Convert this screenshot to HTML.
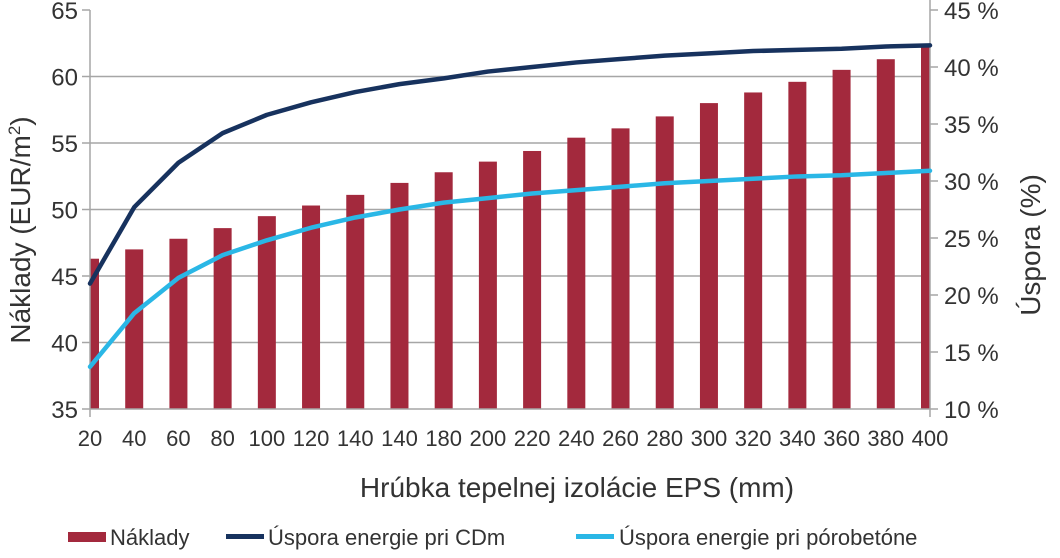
<!DOCTYPE html>
<html><head><meta charset="utf-8"><style>
body{margin:0;background:#fff;}
text{font-family:"Liberation Sans",sans-serif;fill:#333;}
</style></head><body>
<svg id="chart" width="1060" height="553" viewBox="0 0 1060 553" xmlns="http://www.w3.org/2000/svg">
<defs><clipPath id="plotclip"><rect x="90" y="0" width="840" height="409"/></clipPath></defs>
<g id="grid"></g>
<g id="bars" clip-path="url(#plotclip)"></g>
<g id="axes"></g>
<g id="lines"></g>
<text x="30" y="230" font-size="28" text-anchor="middle" transform="rotate(-90 30 230)">Náklady (EUR/m<tspan font-size="17" dy="-10">2</tspan><tspan dy="10">)</tspan></text>
<text x="1040" y="245" font-size="28" text-anchor="middle" transform="rotate(-90 1040 245)">Úspora (%)</text>
<text x="577" y="497" font-size="28" text-anchor="middle">Hrúbka tepelnej izolácie EPS (mm)</text>
<g>
<g><rect x="68" y="532" width="38" height="10" fill="#a3293d"/><text x="110" y="545" font-size="22">Náklady</text></g>
<g><rect x="226" y="534" width="38" height="5" fill="#17325e"/><text x="268" y="545" font-size="22">Úspora energie pri CDm</text></g>
<g><rect x="576" y="534" width="38" height="5" fill="#2ab7e6"/><text x="619" y="545" font-size="22">Úspora energie pri pórobetóne</text></g>
</g>
</svg>
<script>
const categories=["20","40","60","80","100","120","140","140","180","200","220","240","260","280","300","320","340","360","380","400"];
const costs=[46.3,47.0,47.8,48.6,49.5,50.3,51.1,52.0,52.8,53.6,54.4,55.4,56.1,57.0,58.0,58.8,59.6,60.5,61.3,62.2];
const savingCDm=[21.0,27.7,31.6,34.2,35.8,36.9,37.8,38.5,39.0,39.6,40.0,40.4,40.7,41.0,41.2,41.4,41.5,41.6,41.8,41.9];
const savingPoro=[13.7,18.4,21.5,23.5,24.8,25.9,26.8,27.5,28.1,28.5,28.9,29.2,29.5,29.8,30.0,30.2,30.4,30.5,30.7,30.9];
const leftTicks=[35,40,45,50,55,60,65];
const rightTicks=[10,15,20,25,30,35,40,45];
const NS="http://www.w3.org/2000/svg";
const X0=90,X1=930,YT=10,YB=409;
const xs=i=>X0+i*(X1-X0)/(categories.length-1);
const yL=v=>YB-(v-35)/30*(YB-YT);
const yR=v=>YB-(v-10)/35*(YB-YT);
function mk(tag,attrs,parent){const e=document.createElementNS(NS,tag);for(const k in attrs)e.setAttribute(k,attrs[k]);parent.appendChild(e);return e;}
const grid=document.getElementById('grid'),bars=document.getElementById('bars'),axes=document.getElementById('axes'),lines=document.getElementById('lines');
leftTicks.forEach(t=>{const y=yL(t);
 if(t>35&&t<65){const g=mk('line',{x1:X0,x2:X1,y1:y,y2:y,stroke:'#a6a6a6','stroke-width':1.5},grid);}
 mk('line',{x1:X0-8,x2:X0,y1:y,y2:y,stroke:'#a6a6a6','stroke-width':1.5},axes);
 const tx=mk('text',{x:X0-12,y:y+9,'font-size':24,'text-anchor':'end'},axes);tx.textContent=t;
 });
rightTicks.forEach(t=>{const y=yR(t);
 mk('line',{x1:X1,x2:X1+8,y1:y,y2:y,stroke:'#a6a6a6','stroke-width':1.5},axes);
 const tx=mk('text',{x:X1+14,y:y+9,'font-size':24},axes);tx.textContent=t+' %';
 });
mk('line',{x1:X0,x2:X0,y1:YT,y2:YB+8,stroke:'#a6a6a6','stroke-width':1.5},axes);
mk('line',{x1:X1,x2:X1,y1:YT-10,y2:YB+8,stroke:'#a6a6a6','stroke-width':1.5},axes);
mk('line',{x1:X0,x2:X1,y1:YB,y2:YB,stroke:'#a6a6a6','stroke-width':1.5},axes);
categories.forEach((c,i)=>{const x=xs(i);
 const r=mk('rect',{x:x-9,y:yL(costs[i]),width:18,height:YB-yL(costs[i]),fill:'#a3293d'},bars);
 
 const tx=mk('text',{x:x,y:446,'font-size':22,'text-anchor':'middle'},axes);tx.textContent=c;
 });
function line(arr,col,name){const d=arr.map((v,i)=>(i?'L':'M')+xs(i)+','+yR(v)).join(' ');
 const p=mk('path',{d:d,fill:'none',stroke:col,'stroke-width':4.5,'stroke-linejoin':'round','stroke-linecap':'round'},lines);
 }
line(savingCDm,'#17325e','line-cdm');
line(savingPoro,'#2ab7e6','line-porobeton');
</script>
</body></html>
